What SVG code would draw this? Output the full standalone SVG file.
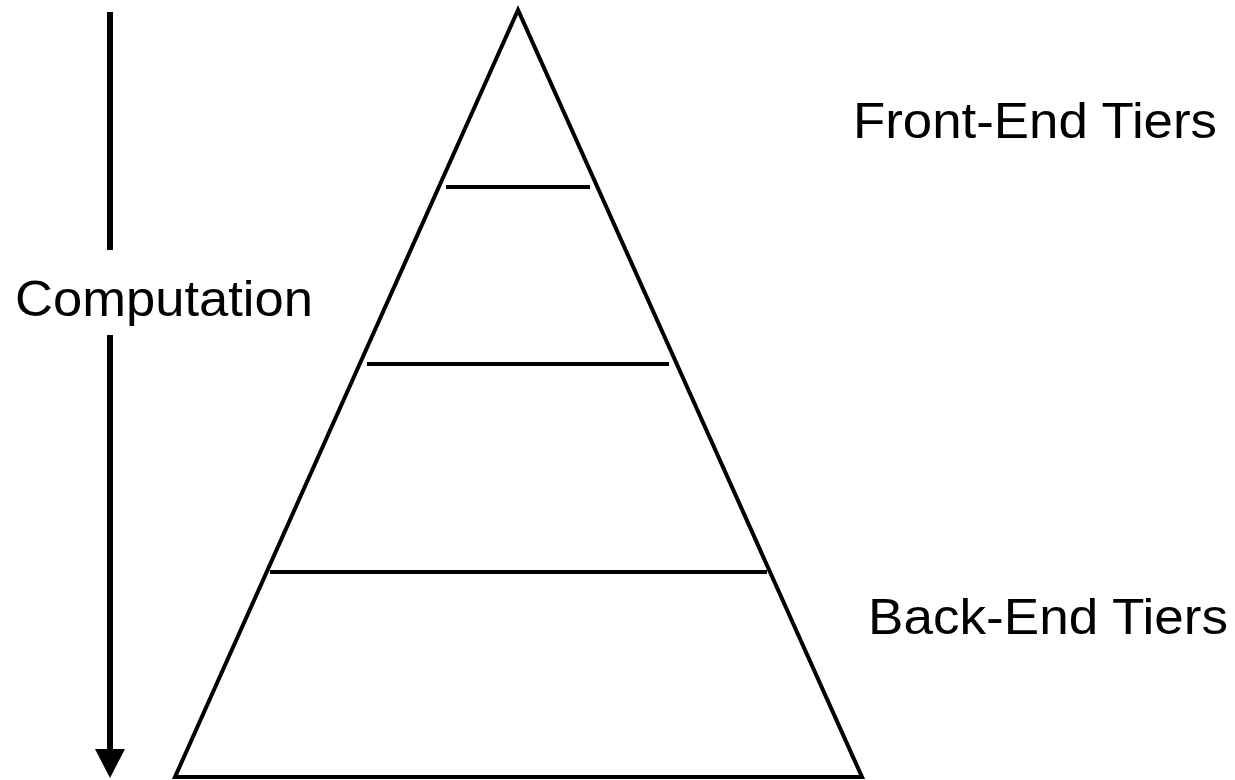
<svg xmlns="http://www.w3.org/2000/svg" width="1235" height="780" viewBox="0 0 1235 780">
<style>
.ln{stroke:#000;stroke-width:4;fill:none}
.tx{font-family:"Liberation Sans",Arial,sans-serif;font-size:50px;fill:#000}
</style>
<rect width="1235" height="780" fill="#fff"/>
<g id="pyramid">
<polygon class="ln" points="518,10 175,777 862,777" stroke-linejoin="miter"/>
<line class="ln" x1="446" y1="187" x2="590" y2="187"/>
<line class="ln" x1="367" y1="364" x2="669" y2="364"/>
<line class="ln" x1="270" y1="572" x2="767" y2="572"/>
</g>
<g id="labels">
<text class="tx" x="853" y="138" textLength="364" lengthAdjust="spacingAndGlyphs">Front-End Tiers</text>
<text class="tx" x="868" y="634" textLength="360" lengthAdjust="spacingAndGlyphs">Back-End Tiers</text>
</g>
<g id="connectors">
<line x1="110" y1="12" x2="110" y2="250" stroke="#000" stroke-width="6"/>
<line x1="110" y1="335" x2="110" y2="752" stroke="#000" stroke-width="6"/>
<polygon points="95,749 125,749 110,778" fill="#000"/>
<text class="tx" x="15" y="316" textLength="298" lengthAdjust="spacingAndGlyphs">Computation</text>
</g>
</svg>
